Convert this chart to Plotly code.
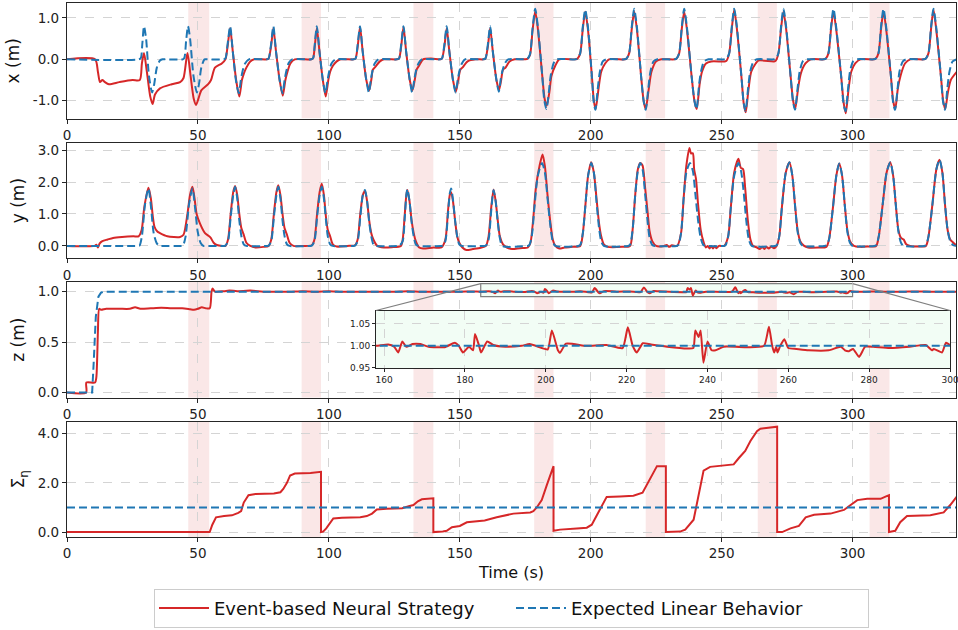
import plotly.graph_objects as go

RED = "#d62728"
BLUE = "#1f77b4"
T_RANGE = [0, 339.5]

# shaded event windows (s)
bands = [(46.3, 54.3), (89.6, 97.0), (132.3, 139.9), (178.4, 185.8),
         (221.0, 228.4), (263.8, 271.1), (306.5, 314.1)]

x_red = [(0,0),(10.7,0),(11.8,-0.3),(12.6,-0.55),(13.5,-0.5),(14.5,-0.55),(16,-0.6),(20,-0.55),(25,-0.5),(27.8,-0.5),(28.6,-0.1),(29.4,0.15),(30.5,-0.3),(31.8,-0.9),(32.7,-1.08),(33.6,-0.85),(35.5,-0.7),(40,-0.6),(43.2,-0.55),(44.5,-0.45),(46,0.15),(47.2,-0.4),(48.4,-0.95),(49.3,-1.1),(50.2,-0.95),(51.3,-0.75),(53.9,-0.6),(55,-0.5),(56.5,-0.2),(59.1,-0.1),(60.5,0),
(61.3,0.3),(62.3,0.75),(63.3,0.2),(64.6,-0.5),(65.8,-0.9),(66.8,-0.5),(67.5,-0.35),(68.5,-0.2),(70,-0.05),(71.5,0),
(76.3,0),(77,0.02),(77.9,0.3),(78.8,0.75),(79.8,0.2),(81.2,-0.5),(82.4,-0.88),(83.4,-0.5),(84.2,-0.3),(85.3,-0.1),(87,0),
(93.3,0),(94,0.03),(94.6,0.3),(95.4,0.75),(96.4,0.2),(97.7,-0.5),(98.8,-0.9),(99.8,-0.5),(100.5,-0.3),(101.6,-0.15),(103,-0.05),(104.5,0),
(109.5,0),(110.2,0.02),(111,0.3),(111.9,0.78),(112.9,0.2),(114.3,-0.5),(115.4,-0.75),(116.2,-0.5),(116.8,-0.25),(117.5,-0.2),(119.5,-0.05),(121,0),
(126,0),(126.8,0.02),(127.6,0.3),(128.5,0.78),(129.5,0.2),(130.9,-0.5),(131.9,-0.75),(132.8,-0.5),(133.5,-0.25),(134.5,-0.15),(136,0),(139,0.02),
(142.5,0),(143.2,0.02),(144.1,0.3),(145.0,0.75),(146,0.2),(147.4,-0.5),(148.5,-0.78),(149.4,-0.5),(150.2,-0.25),(151,-0.2),(153,-0.05),(156,0),
(159,0),(159.8,0.02),(160.7,0.3),(161.6,0.75),(162.6,0.2),(164,-0.5),(165,-0.74),(165.8,-0.5),(166.5,-0.25),(167.5,-0.2),(169,-0.05),(171,0),
(175,0),(175.8,0.01),(176.8,0.1),(177.8,0.7),(178.8,1.16),(179.8,0.75),(181.5,-0.4),(182.4,-0.95),(183.2,-1.12),(184.2,-0.8),(185,-0.4),(186.5,-0.15),(188,0),
(194.2,0),(195,0.02),(196,0.15),(197,0.75),(197.9,1.15),(198.9,0.75),(200.5,-0.45),(201.2,-1.0),(201.9,-1.2),(203,-0.7),(204,-0.3),(205.5,-0.1),(207,0),
(213,0),(213.7,0.02),(214.7,0.15),(215.7,0.75),(216.6,1.15),(217.6,0.75),(219.3,-0.45),(220.2,-1.0),(221,-1.2),(222.2,-0.7),(223.2,-0.3),(225,-0.05),(227,0),
(232,0),(232.8,0.02),(233.8,0.15),(234.8,0.75),(235.7,1.15),(236.7,0.75),(238.6,-0.45),(239.6,-1.0),(240.5,-1.2),(241.6,-0.6),(242.5,-0.3),(244,-0.1),(246,-0.05),
(251.2,-0.05),(251.9,-0.03),(252.9,0.15),(253.9,0.75),(254.8,1.2),(255.8,0.75),(257.6,-0.45),(258.4,-1.05),(259.2,-1.28),(260.3,-0.7),(261.3,-0.3),(263,-0.1),(264,-0.03),
(270,-0.05),(270.7,-0.03),(271.7,0.15),(272.7,0.75),(273.6,1.15),(274.6,0.75),(276.4,-0.45),(277.3,-1.0),(278.1,-1.2),(279.2,-0.7),(280.2,-0.35),(282,-0.1),(284,0),
(289,0),(289.8,0.02),(290.8,0.15),(291.8,0.75),(292.7,1.15),(293.7,0.75),(295.7,-0.45),(296.6,-1.05),(297.4,-1.3),(298.5,-0.7),(299.5,-0.3),(301,-0.1),(303,0),
(308.1,0),(308.9,0.02),(309.9,0.15),(310.9,0.75),(311.8,1.15),(312.8,0.75),(314.7,-0.45),(315.5,-1.0),(316.3,-1.2),(317.3,-0.7),(318.3,-0.4),(320,-0.1),(322,0),
(327.2,0),(328,0.02),(329,0.15),(330,0.75),(330.9,1.2),(331.9,0.75),(333.8,-0.45),(334.6,-1.0),(335.4,-1.2),(336.4,-0.8),(337.5,-0.5),(339.8,-0.3)]

x_ref = [(0,0),(27.5,0),(28.2,0.03),(28.8,0.4),(29.4,0.8),(30.2,0.5),(31.3,-0.4),(32.5,-0.8),(33.3,-0.6),(34.3,-0.2),(35.5,-0.03),(36.5,0),
(37.5,0),(44.2,0),(44.8,0.03),(45.5,0.45),(46.2,0.8),(47,0.5),(48.3,-0.4),(49.6,-0.8),(50.4,-0.6),(51.3,-0.2),(52.5,0),
(53.5,0),(59.8,0),(60.5,0.02),(61.3,0.35),(62.3,0.8),(63.3,0.2),(64.5,-0.5),(65.6,-0.82),(66.4,-0.5),(67,-0.3),(68,-0.1),(69.5,0),
(76.3,0),(77,0.02),(77.9,0.35),(78.8,0.8),(79.8,0.2),(81.2,-0.5),(82.3,-0.82),(83.1,-0.5),(83.7,-0.3),(84.7,-0.08),(86,0),
(93.3,0),(94,0.03),(94.6,0.35),(95.4,0.8),(96.4,0.2),(97.7,-0.5),(98.7,-0.82),(99.5,-0.5),(100.1,-0.3),(101,-0.1),(102.5,0),
(109.5,0),(110.2,0.02),(111,0.35),(111.9,0.8),(112.9,0.2),(114.3,-0.5),(115.3,-0.8),(116,-0.5),(116.6,-0.3),(117.5,-0.1),(119,0),
(126,0),(126.8,0.02),(127.6,0.35),(128.5,0.8),(129.5,0.2),(130.9,-0.5),(131.8,-0.8),(132.6,-0.5),(133.2,-0.3),(134.2,-0.1),(135.5,0),
(142.5,0),(143.2,0.02),(144.1,0.35),(145.0,0.8),(146,0.2),(147.4,-0.5),(148.4,-0.8),(149.2,-0.5),(149.8,-0.3),(150.8,-0.1),(152,0),
(159,0),(159.8,0.02),(160.7,0.35),(161.6,0.8),(162.6,0.2),(164,-0.5),(164.9,-0.78),(165.6,-0.5),(166.2,-0.3),(167.2,-0.1),(168.5,0),
(175,0),(175.8,0.01),(176.8,0.12),(177.8,0.75),(178.8,1.22),(179.8,0.8),(181.5,-0.4),(182.3,-1.0),(183.1,-1.2),(184,-0.8),(184.7,-0.4),(185.8,-0.1),(187,0),
(194.2,0),(195,0.02),(196,0.15),(197,0.8),(197.9,1.2),(198.9,0.8),(200.5,-0.45),(201.1,-1.0),(201.8,-1.22),(202.7,-0.7),(203.5,-0.3),(204.6,-0.05),(206,0),
(213,0),(213.7,0.02),(214.7,0.15),(215.7,0.8),(216.6,1.22),(217.6,0.8),(219.3,-0.45),(220.2,-1.0),(221,-1.22),(222,-0.7),(222.8,-0.3),(224,-0.05),(225.5,0),
(232,0),(232.8,0.02),(233.8,0.15),(234.8,0.8),(235.7,1.22),(236.7,0.8),(238.6,-0.45),(239.6,-1.0),(240.4,-1.2),(241.4,-0.6),(242.1,-0.3),(243.3,-0.05),(245,0),
(251.2,0),(251.9,0.02),(252.9,0.15),(253.9,0.8),(254.8,1.22),(255.8,0.8),(257.6,-0.45),(258.4,-1.05),(259.1,-1.25),(260.1,-0.7),(260.9,-0.3),(262.2,-0.05),(263.5,0),
(270,0),(270.7,0.02),(271.7,0.15),(272.7,0.8),(273.6,1.22),(274.6,0.8),(276.4,-0.45),(277.2,-1.0),(278,-1.22),(279,-0.7),(279.8,-0.3),(281,-0.05),(282.5,0),
(289,0),(289.8,0.02),(290.8,0.15),(291.8,0.8),(292.7,1.22),(293.7,0.8),(295.7,-0.45),(296.5,-1.05),(297.3,-1.25),(298.3,-0.7),(299,-0.3),(300.2,-0.05),(301.5,0),
(308.1,0),(308.9,0.02),(309.9,0.15),(310.9,0.8),(311.8,1.22),(312.8,0.8),(314.7,-0.45),(315.4,-1.0),(316.2,-1.22),(317.2,-0.7),(317.9,-0.3),(319.2,-0.05),(320.5,0),
(327.2,0),(328,0.02),(329,0.15),(330,0.8),(330.9,1.22),(331.9,0.8),(333.8,-0.45),(334.5,-1.0),(335.3,-1.22),(336.2,-0.7),(337,-0.3),(338.2,-0.05),(339.8,0)]

y_red = [(0,0),(10.5,0),(11.2,0.04),(11.8,-0.05),(12.5,0.08),(13.5,0.15),(15.5,0.2),(17.6,0.25),(21,0.28),(25.4,0.3),(27.3,0.3),(28.5,0.5),(29.5,1.2),(31.1,1.82),(32,1.5),(32.8,0.9),(33.4,0.6),(34.5,0.45),(35.5,0.4),(38.3,0.3),(43.2,0.28),(44.5,0.35),(46,1.0),(47,1.6),(47.9,1.85),(48.7,1.5),(49.5,1.0),(50.8,0.7),(52.7,0.4),(54.3,0.3),(54.9,0.25),(56,0.1),(57.2,0.03),(59.5,0),
(60.5,0),(61.5,0.2),(62.5,1.0),(63.5,1.7),(64.2,1.88),(65,1.6),(65.8,1.0),(66.6,0.55),(67.5,0.35),(68.5,0.1),(70,0),(72,-0.05),(75,-0.03),
(77,0),(78,0.2),(79,1.0),(80,1.7),(80.7,1.9),(81.5,1.6),(82.3,1.0),(83.1,0.55),(84,0.35),(85,0.1),(86.5,0),(90,0),
(93.5,0.02),(94.5,0.2),(95.5,1.0),(96.5,1.7),(97.3,1.95),(98.1,1.6),(98.9,0.9),(99.6,0.5),(100.5,0.3),(101.5,0.05),(103,-0.02),(107,0),
(110,0.02),(111,0.2),(112,1.0),(113,1.6),(113.8,1.72),(114.6,1.4),(115.4,0.8),(116.2,0.4),(117,0.2),(118.5,0),(121,-0.05),(124,-0.04),
(127.5,0),(128.2,0.2),(129,1.0),(129.6,1.6),(130.0,1.75),(130.8,1.4),(131.6,0.8),(132.4,0.4),(133.2,0.15),(134.5,-0.05),(136,-0.08),(140,-0.05),
(143,-0.05),(144.5,0.2),(145.5,1.1),(146.2,1.6),(146.7,1.68),(147.4,1.4),(148.2,0.8),(149,0.3),(149.8,0.1),(151,-0.05),(152.5,-0.13),(155,-0.1),(158,-0.06),
(160,0),(161,0.3),(162,1.2),(162.9,1.77),(163.7,1.4),(164.5,0.8),(165.3,0.3),(166.5,0.05),(168,-0.05),(170,-0.1),(173,-0.07),
(176,-0.05),(177,0.1),(178,0.8),(179,1.77),(180.2,2.4),(181.6,2.86),(182.5,2.5),(183.5,1.6),(184.5,0.8),(185.5,0.2),(186.5,0),(188,-0.08),(190,-0.05),(193,-0.03),
(196,0),(197,0.4),(198,1.3),(199,2.2),(200.2,2.62),(201.2,2.3),(202.2,1.5),(203.2,0.7),(204,0.3),(205,0.05),(206.5,-0.03),(212,-0.03),
(215,0),(216,0.5),(217,1.6),(218,2.4),(218.9,2.6),(219.8,2.52),(220.8,1.8),(221.8,1.0),(222.5,0.45),(223.5,0.15),(225,0),(228,0),(229,0.03),(230,-0.03),(231,0.02),
(233,0),(234.5,0.4),(235.5,1.5),(236.5,2.5),(237.7,3.07),(238.3,2.9),(239,2.9),(239.5,2.4),(240.2,2.1),(241,1.3),(242,0.5),(243,0.15),(244,-0.05),(244.7,0),(245.4,-0.08),(246,0),(246.7,-0.08),(247.4,0),(248,-0.07),(249,0),
(251,0),(252.5,0.3),(253.5,1.2),(254.8,2.3),(256.4,2.73),(257.3,2.45),(258.2,2.4),(259,1.8),(260,0.8),(261,0.2),(262,0),(263.5,-0.05),(264.5,-0.1),(265.5,-0.03),(266.3,-0.1),(267,-0.03),(268,-0.08),(269,-0.02),(270,-0.07),
(271,0),(272,0.3),(273,1.2),(274.5,2.3),(275.9,2.62),(277,2.2),(278,1.3),(279,0.5),(280,0.15),(281.5,0),(283,-0.05),(287,-0.05),
(290,-0.03),(291,0.2),(292.5,1.2),(293.8,2.2),(294.9,2.58),(296,2.2),(297,1.3),(298,0.5),(299,0.15),(300.5,0),(303,-0.03),(306,-0.02),
(309,0),(310,0.3),(311.5,1.3),(313,2.3),(314.4,2.62),(315.5,2.2),(316.5,1.3),(317.5,0.5),(318.5,0.25),(319.5,0.2),(320.5,0.05),(322,0),(325,-0.02),
(328,0),(329,0.3),(330.5,1.3),(332,2.4),(333.2,2.7),(334.3,2.3),(335.3,1.3),(336.3,0.5),(337.3,0.2),(338.5,0.1),(339.8,0)]

y_ref = [(0,0),(27,0),(27.7,0.01),(28.6,0.3),(29.8,1.3),(31.1,1.8),(32.1,1.2),(33.1,0.4),(34.3,0.08),(35.5,0),
(36.5,0),(43.6,0),(44.3,0.01),(45.3,0.3),(46.6,1.3),(47.9,1.8),(48.9,1.2),(49.9,0.45),(51,0.1),(52.1,0),
(53,0),(59.8,0),(60.5,0.01),(61.5,0.15),(62.5,0.9),(63.5,1.6),(64.2,1.85),(65,1.5),(65.8,0.8),(66.6,0.3),(67.5,0.05),(68.5,0),
(76.3,0),(77,0.01),(78,0.15),(79,0.9),(80,1.6),(80.7,1.85),(81.5,1.5),(82.3,0.8),(83.1,0.3),(84,0.05),(85,0),
(92.8,0),(93.5,0.01),(94.5,0.15),(95.5,0.9),(96.5,1.6),(97.3,1.85),(98.1,1.5),(98.9,0.8),(99.6,0.3),(100.5,0.05),(101.5,0),
(109.3,0),(110,0.01),(111,0.15),(112,0.9),(113,1.6),(113.8,1.75),(114.6,1.4),(115.4,0.75),(116.2,0.3),(117,0.05),(118,0),
(126.3,0),(127,0.01),(128.2,0.15),(129,0.9),(129.6,1.6),(130.0,1.78),(130.8,1.4),(131.6,0.75),(132.4,0.3),(133.2,0.05),(134.2,0),
(142.8,0),(143.5,0.01),(144.5,0.15),(145.5,1.0),(146.2,1.65),(146.7,1.8),(147.4,1.45),(148.2,0.8),(149,0.3),(149.8,0.05),(150.8,0),
(159.3,0),(160,0.01),(161,0.2),(162,1.1),(162.9,1.75),(163.7,1.4),(164.5,0.75),(165.3,0.25),(166.3,0),
(175.8,0),(176.5,0.02),(177.5,0.3),(178.5,1.2),(179.8,2.2),(181.4,2.6),(182.5,2.3),(183.5,1.5),(184.5,0.7),(185.5,0.15),(186.5,0),
(195.3,0),(196,0.03),(197,0.4),(198,1.3),(199,2.2),(200.2,2.6),(201.2,2.3),(202.2,1.4),(203.2,0.55),(204,0.15),(205,0),
(214.3,0),(215,0.03),(216,0.5),(217,1.6),(218,2.35),(218.9,2.6),(219.8,2.4),(220.8,1.6),(221.8,0.7),(222.5,0.25),(223.5,0.03),(224.5,0),
(232.8,0),(233.5,0.03),(234.5,0.4),(235.5,1.5),(236.5,2.3),(237.9,2.6),(239,2.35),(240,1.6),(241,0.8),(242,0.25),(243,0.03),(244,0),
(250.8,0),(251.5,0.02),(252.5,0.3),(253.5,1.2),(254.8,2.2),(256.4,2.6),(257.4,2.35),(258.4,1.7),(259.4,0.8),(260.4,0.2),(261.5,0),
(270.3,0),(271,0.02),(272,0.3),(273,1.2),(274.5,2.3),(275.9,2.62),(277,2.2),(278,1.3),(279,0.45),(280,0.1),(281,0),
(289.3,0),(290,0.02),(291,0.2),(292.5,1.2),(293.8,2.2),(294.9,2.58),(296,2.2),(297,1.3),(298,0.45),(299,0.1),(300,0),
(308.3,0),(309,0.02),(310,0.3),(311.5,1.3),(313,2.3),(314.4,2.62),(315.5,2.2),(316.5,1.3),(317.5,0.45),(318.5,0.1),(319.5,0),
(327.3,0),(328,0.02),(329,0.3),(330.5,1.3),(332,2.4),(333.2,2.7),(334.3,2.3),(335.3,1.3),(336.3,0.5),(337.3,0.15),(338.5,0.02),(339.8,0)]

z_red = [(0,0),(7.3,0),(7.4,0.1),(10.7,0.1),(11.2,0.15),(11.8,0.6),(12.3,0.83),(13,0.82),(15,0.83),(20,0.83),(24,0.83),(26,0.845),(28,0.83),(32,0.835),(36,0.84),(40,0.835),(44,0.835),(47,0.825),(48.5,0.82),(50,0.83),(51.5,0.845),(53,0.835),(54.5,0.835),(55.2,1.0),(55.6,1.03),(56.5,1.0),
(60,1.005),(62,1.01),(65,1.005),(70,1.01),(75,1.0),(80,1.0),(85,1.0),(90,1.005),(95,1.0),(100,1.005),(105,1.0),(110,1.0),(115,1.0),(120,1.0),(125,1.0),(130,1.005),(135,1.0),(140,0.998),(145,1.0),(150,1.0),(155,1.002),
(158,1.0),(161,1.003),(162.5,0.998),(163.5,0.985),(164.5,1.01),(165.5,0.998),(167,1.004),(169,1.004),(171,0.998),(175,0.997),(177.5,1.007),(178.5,1.0),(179.5,0.985),(181,0.998),(182,0.99),(182.5,1.027),(183.5,1.0),(184,0.985),(185.5,1.01),(187,1.002),(190,0.998),(194,1.0),(196,1.004),(199,0.995),(200.5,0.992),(201.5,1.035),(203,0.99),(203.5,0.984),(205,1.005),(210,1.0),(215,1.002),(219,0.995),(220.3,1.042),(221.5,1.0),(222.5,0.985),(224,1.006),(226,1.003),(230,0.998),(235,0.994),(236.5,0.995),(237,1.035),(237.8,1.02),(238.3,1.035),(239,0.962),(240,1.01),(241,0.99),(242,0.99),(244,0.998),(250,0.997),(254,1.0),(255.2,1.043),(256,1.0),(256.5,0.985),(257,0.998),(257.3,0.985),(258,1.0),(259,1.015),(260,0.995),(262,0.993),(265,0.99),(270,0.99),(273,0.998),(274,0.99),(275,0.988),(276,0.993),(277.5,0.975),(279,0.998),(281,0.998),(285,0.995),(290,0.998),(294,1.002),(295.5,0.99),(296,0.993),(298,0.985),(299,1.007),(300,1.002),
(305,1.0),(310,1.002),(315,0.998),(320,1.0),(325,1.002),(330,1.0),(335,1.0),(339.8,1.0)]

z_ref = [(0,0),(9.6,0),(10.2,0.3),(11,0.75),(12,0.95),(13,0.99),(14,1.0),(339.8,1.0)]

s_red = [(0,0),(54.5,0),(55.5,0.3),(56.9,0.6),(60,0.65),(63,0.68),(65.4,0.78),(66.5,0.85),(67.5,1.2),(69.3,1.5),(72,1.55),(79,1.57),(81.5,1.62),(82.6,1.75),(84,2.0),(85.2,2.3),(87,2.38),(93,2.4),(97.0,2.45),(97.0,0.0),
(97.8,0.02),(99,0.15),(101.7,0.55),(105,0.58),(112,0.6),(114.5,0.65),(116.5,0.75),(118.3,0.92),(122,0.95),(128,0.97),(130.5,1.05),(132.3,1.1),(134,1.25),(135.5,1.33),(139.9,1.37),(139.9,0.0),
(143.5,0.02),(145,0.05),(147,0.2),(150,0.25),(152.7,0.4),(155,0.43),(157.8,0.45),(159.5,0.47),(164.1,0.6),(170.5,0.75),(176.9,0.8),(178.1,0.85),(179.4,1.0),(181.3,1.3),(183.2,1.9),(185.8,2.68),(185.8,0.05),
(188.3,0.1),(194.7,0.15),(198.5,0.18),(200.4,0.3),(202.9,0.8),(206.1,1.43),(211.2,1.45),(216.3,1.48),(219.8,1.6),(222.7,2.2),(225.3,2.68),(228.7,2.68),(228.7,0.0),
(234.1,0.02),(236.1,0.1),(239.3,0.5),(241.2,1.5),(243.1,2.5),(245.6,2.65),(252,2.7),(254.6,2.75),(256.5,3.0),(259,3.3),(261,3.7),(263.5,4.1),(264.8,4.2),(271.2,4.28),(271.2,0.0),
(273.1,0.0),(276.3,0.15),(279.5,0.25),(282.1,0.6),(285.3,0.7),(291.6,0.75),(296.7,0.9),(298.6,1.05),(301.8,1.3),(305.6,1.35),(310.7,1.35),(312.8,1.45),(313.9,1.5),(313.9,0.0),
(316.3,0.05),(318.2,0.4),(320.8,0.65),(329.7,0.68),(334.8,0.8),(337.3,1.1),(339.9,1.45)]

s_ref = [(0,1.0),(339.9,1.0)]

x_ticks = [0, 50, 100, 150, 200, 250, 300]
inset_x_ticks = [160, 180, 200, 220, 240, 260, 280, 300]
y_ticks = {
    1: ([-1.0, 0.0, 1.0], ["-1.0", "0.0", "1.0"]),
    2: ([0.0, 1.0, 2.0, 3.0], ["0.0", "1.0", "2.0", "3.0"]),
    3: ([0.0, 0.5, 1.0], ["0.0", "0.5", "1.0"]),
    4: ([0.0, 2.0, 4.0], ["0.0", "2.0", "4.0"]),
}
y_titles = {1: "x (m)", 2: "y (m)", 3: "z (m)", 4: "Σ<sub>η</sub>"}
y_ranges = {1: [-1.43, 1.36], 2: [-0.39, 3.23], 3: [-0.052, 1.099], 4: [-0.2, 4.485]}
y_domains = {1: [0.7836, 1.0], 2: [0.5218, 0.7382], 3: [0.2606, 0.4782], 4: [0.0, 0.2159]}
inset_xdom = [0.3476, 0.9933]
inset_ydom = [0.3166, 0.4241]
inset_xrange = [158, 300]
inset_yrange = [0.95, 1.08]
inset_yticks = [0.95, 1.00, 1.05]

FONT = "DejaVu Sans"
AX = "#262626"
GRID = "#d4d4d4"
INSET_BG = "#f2fdf5"

def unzip(pairs):
    return [p[0] for p in pairs], [p[1] for p in pairs]

fig = go.Figure()

series = [(1, x_red, x_ref), (2, y_red, y_ref), (3, z_red, z_ref), (4, s_red, s_ref)]
for i, red, ref in series:
    sfx = "" if i == 1 else str(i)
    shape_r = "linear" if i == 4 else "spline"
    shape_b = "linear" if i >= 3 else "spline"
    tr, vr = unzip(red)
    tb, vb = unzip(ref)
    fig.add_trace(go.Scatter(x=tr, y=vr, mode="lines", xaxis="x" + sfx, yaxis="y" + sfx,
                             line=dict(color=RED, width=2, shape=shape_r, smoothing=0.7),
                             name="Event-based Neural Strategy", legendgroup="red",
                             showlegend=(i == 1)))
    fig.add_trace(go.Scatter(x=tb, y=vb, mode="lines", xaxis="x" + sfx, yaxis="y" + sfx,
                             line=dict(color=BLUE, width=2, dash="8px,4px", shape=shape_b, smoothing=0.7),
                             name="Expected Linear Behavior", legendgroup="blue",
                             showlegend=(i == 1)))

# inset traces (same data, zoomed)
tr, vr = unzip(z_red)
tb, vb = unzip(z_ref)
fig.add_trace(go.Scatter(x=tr, y=vr, mode="lines", xaxis="x5", yaxis="y5",
                         line=dict(color=RED, width=2, shape="spline", smoothing=0.5),
                         showlegend=False))
fig.add_trace(go.Scatter(x=tb, y=vb, mode="lines", xaxis="x5", yaxis="y5",
                         line=dict(color=BLUE, width=2, dash="8px,4px"),
                         showlegend=False))

common = dict(showline=True, linecolor=AX, linewidth=1.2, mirror=True,
              ticks="outside", ticklen=4, tickwidth=1, tickcolor=AX,
              showgrid=True, gridcolor=GRID, gridwidth=0.8, griddash="dash",
              zeroline=False, automargin=False,
              tickfont=dict(family=FONT, size=13.5, color="#222"))

layout = dict(
    width=958, height=630,
    margin=dict(l=67, r=2, t=3, b=91),
    paper_bgcolor="white", plot_bgcolor="white",
    font=dict(family=FONT, color="#111"),
    template="none",
    showlegend=True,
    legend=dict(orientation="h", x=0.5, xanchor="center", y=-0.097, yanchor="top",
                bordercolor="#cccccc", borderwidth=1, bgcolor="white",
                font=dict(family=FONT, size=18, color="#111"),
                itemwidth=50,
                entrywidth=292, entrywidthmode="pixels"),
)

for i in range(1, 5):
    sfx = "" if i == 1 else str(i)
    xa = dict(common, domain=[0, 1], range=T_RANGE, anchor="y" + sfx,
              tickvals=x_ticks)
    if i == 4:
        xa["title"] = dict(text="Time (s)", font=dict(family=FONT, size=16, color="#111"), standoff=6)
    ya = dict(common, domain=y_domains[i], range=y_ranges[i], anchor="x" + sfx,
              tickvals=y_ticks[i][0], ticktext=y_ticks[i][1],
              title=dict(text=y_titles[i], font=dict(family=FONT, size=17, color="#111"), standoff=8))
    layout["xaxis" + sfx] = xa
    layout["yaxis" + sfx] = ya

small = dict(common, tickfont=dict(family=FONT, size=9, color="#222"), ticklen=3)
layout["xaxis5"] = dict(small, domain=inset_xdom, range=inset_xrange, anchor="y5",
                        tickvals=inset_x_ticks, ticklabeloverflow="allow")
layout["yaxis5"] = dict(small, domain=inset_ydom, range=inset_yrange, anchor="x5",
                        tickvals=inset_yticks, ticktext=["%.2f" % v for v in inset_yticks])

fig.update_layout(**layout)

shapes = []
for i in range(1, 5):
    sfx = "" if i == 1 else str(i)
    for a, b in bands:
        shapes.append(dict(type="rect", xref="x" + sfx, yref="y" + sfx,
                           x0=a, x1=b, y0=y_ranges[i][0], y1=y_ranges[i][1],
                           fillcolor="rgba(214,39,40,0.11)", line=dict(width=0), layer="below"))

# zoom box in the main z panel
shapes.append(dict(type="rect", xref="x3", yref="y3", x0=inset_xrange[0], x1=inset_xrange[1],
                   y0=inset_yrange[0], y1=inset_yrange[1], fillcolor=INSET_BG,
                   line=dict(color="#7f7f7f", width=1.2), layer="below"))
# inset background
shapes.append(dict(type="rect", xref="x5", yref="y5", x0=inset_xrange[0], x1=inset_xrange[1],
                   y0=inset_yrange[0], y1=inset_yrange[1], fillcolor=INSET_BG,
                   line=dict(width=0), layer="below"))

def to_paper_x(v):
    return (v - T_RANGE[0]) / (T_RANGE[1] - T_RANGE[0])

def to_paper_y3(v):
    d0, d1 = y_domains[3]
    r0, r1 = y_ranges[3]
    return d0 + (v - r0) / (r1 - r0) * (d1 - d0)

for xv, ix in ((inset_xrange[0], inset_xdom[0]), (inset_xrange[1], inset_xdom[1])):
    shapes.append(dict(type="line", xref="paper", yref="paper",
                       x0=to_paper_x(xv), y0=to_paper_y3(inset_yrange[1]),
                       x1=ix, y1=inset_ydom[1],
                       line=dict(color="#7f7f7f", width=1.2), layer="above"))

fig.update_layout(shapes=shapes)
fig.write_html("out.html",
               config={"displayModeBar": False},
               post_script="document.body.style.margin='0px';document.body.style.overflow='hidden';")
